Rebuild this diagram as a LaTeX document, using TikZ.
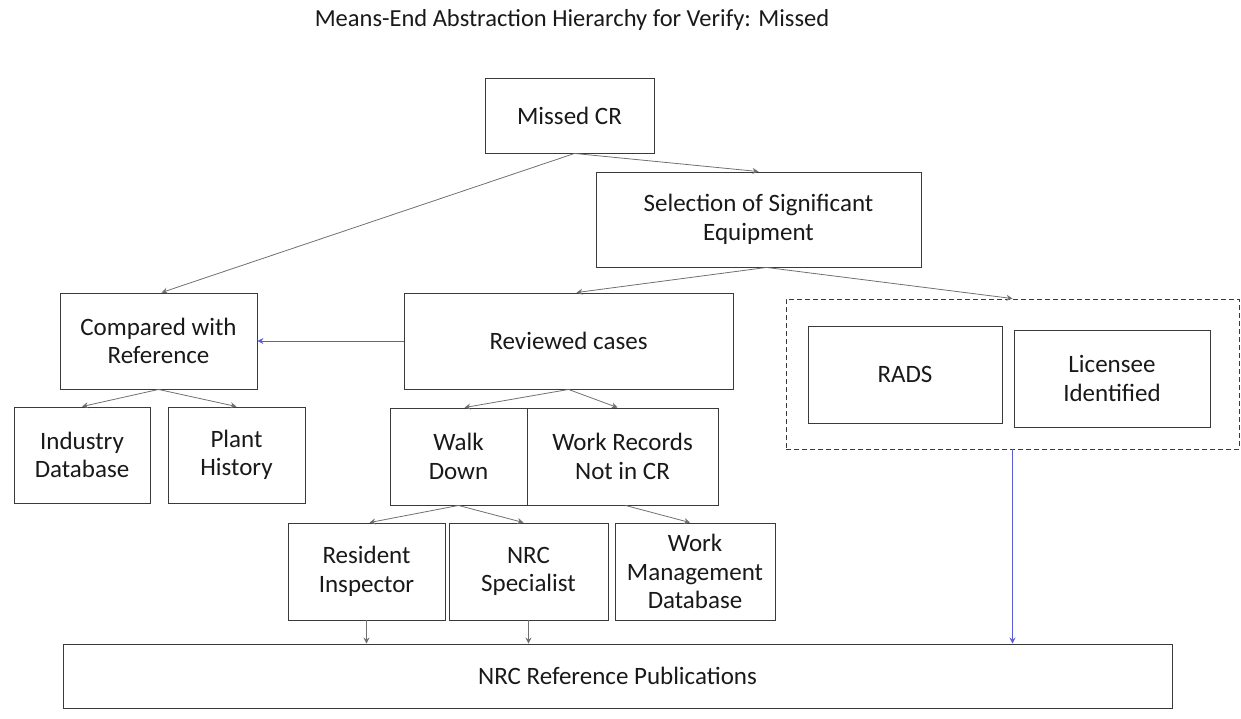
\documentclass[tikz,border=0pt]{standalone}
\usepackage{fontspec}
\setmainfont{Carlito}
\usetikzlibrary{arrows.meta,calc}
\definecolor{edge}{HTML}{707070}
\definecolor{frame}{HTML}{3A3A3A}
\definecolor{link}{HTML}{5C5CD6}
\tikzset{
  box/.style={draw=frame, line width=0.9pt, inner sep=0pt, align=center,
    font=\fontsize{25}{28.5}\selectfont, text=black!90},
  grp/.style={draw=frame, line width=0.9pt, dashed, dash pattern=on 5pt off 3pt, inner sep=0pt},
  arr/.style={draw=edge, line width=0.8pt, -{Stealth[length=6pt,width=6pt]}},
  barr/.style={draw=link, line width=0.8pt, -{Stealth[length=6pt,width=6pt]}},
}
\begin{document}
\begin{tikzpicture}[x=1pt,y=-1pt]
\useasboundingbox (0,0) rectangle (1241,719);

% title
\node[font=\fontsize{24.5}{28}\selectfont, text=black!90] (title) at (572,20) {Means-End Abstraction Hierarchy for Verify: Missed};

% top levels
\node[box, minimum width=169pt, minimum height=75pt] (missed) at (569.5,115.5) {Missed CR};
\node[box, minimum width=325pt, minimum height=95pt] (select) at (758.5,219.5) {Selection of Significant\\Equipment};

% middle level
\node[box, minimum width=197pt, minimum height=96pt] (compared) at (158.5,341) {Compared with\\Reference};
\node[box, minimum width=329pt, minimum height=96pt] (reviewed) at (568.5,341) {Reviewed cases};

% dashed group with its two members
\node[grp, minimum width=453pt, minimum height=150pt] (group) at (1012.5,374) {};
\node[box, minimum width=194pt, minimum height=97pt] (rads) at (905,374.5) {RADS};
\node[box, minimum width=196pt, minimum height=97pt] (licensee) at (1112,378.5) {Licensee\\Identified};

% lower levels
\node[box, minimum width=136pt, minimum height=96pt] (industry) at (82,455) {Industry\\Database};
\node[box, minimum width=137pt, minimum height=96pt] (plant) at (236.5,455) {Plant\\History};
\node[box, minimum width=137pt, minimum height=97pt] (walk) at (458.5,456.5) {Walk\\Down};
\node[box, minimum width=191pt, minimum height=97pt] (workrec) at (622.5,456.5) {Work Records\\Not in CR};

\node[box, minimum width=157pt, minimum height=97pt] (resident) at (366.5,571.5) {Resident\\Inspector};
\node[box, minimum width=159pt, minimum height=97pt] (nrcspec) at (528.5,571.5) {NRC\\Specialist};
\node[box, minimum width=160pt, minimum height=97pt] (workmgmt) at (695,571.5) {Work\\Management\\Database};

\node[box, minimum width=1109pt, minimum height=64pt] (nrcref) at (617.5,676) {NRC Reference Publications};

% connectors
\draw[arr] ([xshift=5pt]missed.south) -- ([xshift=3pt]compared.north);
\draw[arr] ([xshift=5pt]missed.south) -- (select.north);
\draw[arr] ([xshift=8pt]select.south) -- ([xshift=8pt]reviewed.north);
\draw[arr] ([xshift=8pt]select.south) -- (group.north);
\draw[barr] (reviewed.west) -- (compared.east);
\draw[arr] (compared.south) -- (industry.north);
\draw[arr] (compared.south) -- (plant.north);
\draw[arr] (reviewed.south) -- ([xshift=6pt]walk.north);
\draw[arr] (reviewed.south) -- ([xshift=-5pt]workrec.north);
\draw[arr] (walk.south) -- ([xshift=3pt]resident.north);
\draw[arr] (walk.south) -- ([xshift=-5pt]nrcspec.north);
\draw[arr] ([xshift=3pt]workrec.south) -- ([xshift=-5pt]workmgmt.north);
\draw[arr] (resident.south) -- (resident.south |- nrcref.north);
\draw[arr] (nrcspec.south) -- (nrcspec.south |- nrcref.north);
\draw[barr] (group.south) -- (group.south |- nrcref.north);
\end{tikzpicture}
\end{document}
